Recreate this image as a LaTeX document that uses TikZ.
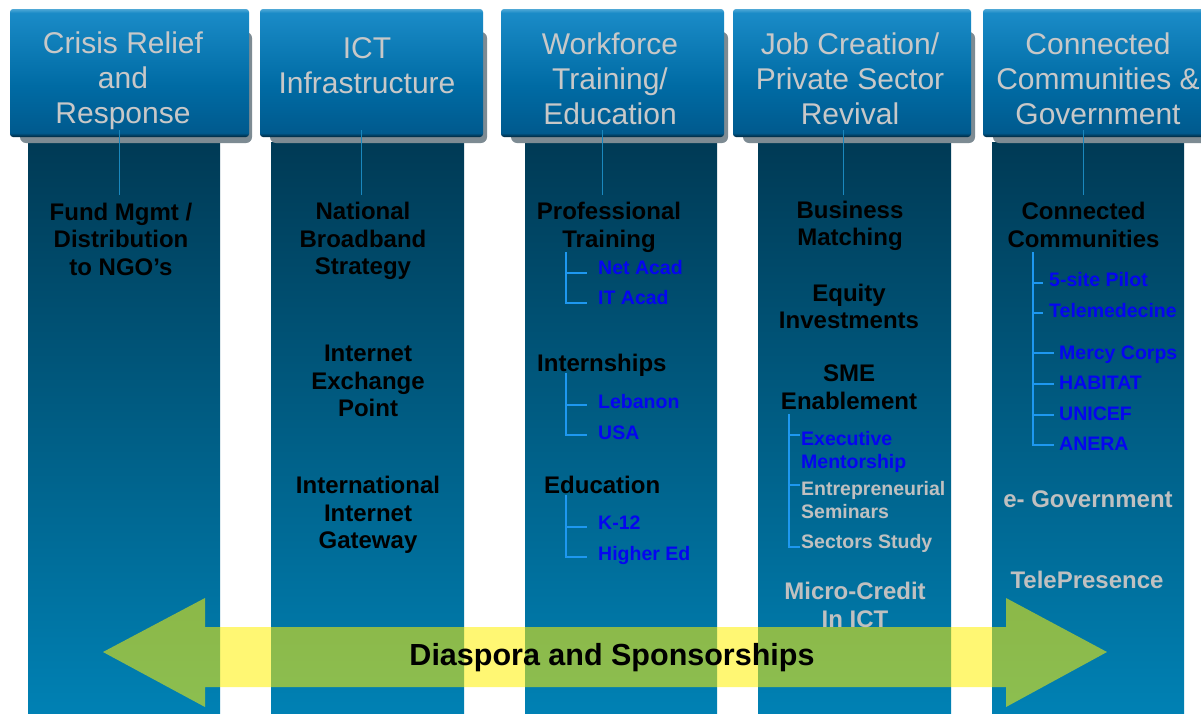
\documentclass[tikz,border=0pt]{standalone}
\usepackage{fontspec}
\setmainfont{Liberation Sans}
\definecolor{coltop}{HTML}{003A55}
\definecolor{colbot}{HTML}{0081B4}
\definecolor{hdedge}{HTML}{00263B}
\definecolor{hdbot}{HTML}{005A8E}
\definecolor{hdmid}{HTML}{006BA4}
\definecolor{hdtop}{HTML}{1A8BC7}
\definecolor{hdhi}{HTML}{4FA8D6}
\definecolor{hdtxt}{HTML}{C8C8C8}
\definecolor{subblue}{HTML}{0505F0}
\definecolor{brk}{HTML}{1E98F0}
\definecolor{greytxt}{HTML}{C0C0C0}
\definecolor{shad}{HTML}{7D8B93}
\definecolor{vline}{HTML}{1A88BE}
\pgfdeclareverticalshading{hdshade}{100bp}{color(0bp)=(hdedge); color(25bp)=(hdedge); color(26.6bp)=(hdbot); color(45bp)=(hdmid); color(73.5bp)=(hdtop); color(75bp)=(hdhi); color(100bp)=(hdhi)}
\begin{document}
\begin{tikzpicture}[x=1pt,y=-1pt,
  hdbox/.style={shade, shading=hdshade, rounded corners=3pt, inner sep=0pt, minimum height=128pt},
  hdshadow/.style={fill=shad, rounded corners=6pt},
  colbar/.style={top color=coltop, bottom color=colbot},
  hdtext/.style={font=\fontsize{30}{35}\selectfont, text=hdtxt, align=center, inner sep=0pt},
  maintext/.style={font=\bfseries\fontsize{24}{27.5}\selectfont, text=black, align=center, inner sep=0pt},
  greytext/.style={maintext, text=greytxt},
  subtext/.style={font=\bfseries\fontsize{19.5}{23}\selectfont, text=subblue, align=left, inner sep=0pt},
  subgrey/.style={subtext, text=greytxt},
  bracket/.style={draw=brk, line width=1.6pt},
  vconn/.style={draw=vline, line width=1pt},
  arrowband/.style={fill=yellow, fill opacity=0.55}
]
\useasboundingbox (0,0) rectangle (1201,713);
\fill[white] (0,0) rectangle (1201,713);

% columns
\shade[colbar] (28,142) rectangle (220,713);
\shade[colbar] (271,142) rectangle (464,713);
\shade[colbar] (525,142) rectangle (717,713);
\shade[colbar] (758,142) rectangle (951,713);
\shade[colbar] (992,142) rectangle (1184,713);

% header shadows
\fill[hdshadow] (20,32) rectangle (252,143);
\fill[hdshadow] (270,32) rectangle (487,143);
\fill[hdshadow] (511,32) rectangle (728,143);
\fill[hdshadow] (743,32) rectangle (975,143);
\fill[hdshadow] (993,32) rectangle (1225,143);

% header boxes
\node[hdbox, minimum width=239pt] (h1) at (129.5,73) {};
\node[hdbox, minimum width=223pt] (h2) at (371.5,73) {};
\node[hdbox, minimum width=223pt] (h3) at (612.5,73) {};
\node[hdbox, minimum width=238pt] (h4) at (852,73) {};
\node[hdbox, minimum width=232pt] (h5) at (1099,73) {};

% header texts
\node[hdtext] (t1) at (123,80.5) {Crisis Relief\\and\\Response};
\node[hdtext] (t2) at (367,66) {ICT\\Infrastructure};
\node[hdtext] (t3) at (610,79) {Workforce\\Training/\\Education};
\node[hdtext] (t4) at (850,78.5) {Job Creation/\\Private Sector\\Revival};
\node[hdtext] (t5) at (1098,78.5) {Connected\\Communities \&\\Government};

% connectors from headers
\coordinate (l1) at (119,195);
\coordinate (l2) at (361,195);
\coordinate (l3) at (602,195);
\coordinate (l4) at (843,195);
\coordinate (l5) at (1083,195);
\draw[vconn] ([yshift=7pt]h1.south -| l1) -- (l1);
\draw[vconn] ([yshift=7pt]h2.south -| l2) -- (l2);
\draw[vconn] ([yshift=7pt]h3.south -| l3) -- (l3);
\draw[vconn] ([yshift=7pt]h4.south -| l4) -- (l4);
\draw[vconn] ([yshift=7pt]h5.south -| l5) -- (l5);

% column 1
\node[maintext] (fund) at (121,239) {Fund Mgmt /\\Distribution\\to NGO’s};

% column 2
\node[maintext] (nbs) at (363,241) {National\\Broadband\\Strategy};
\node[maintext] (ixp) at (368,381) {Internet\\Exchange\\Point};
\node[maintext] (iig) at (368,515) {International\\Internet\\Gateway};

% column 3
\node[maintext] (prof) at (609,227.5) {Professional\\Training};
\node[maintext, anchor=base west] (intern) at (537,371.5) {Internships};
\node[maintext, anchor=base west] (educ) at (544,493.5) {Education};
\node[subtext, anchor=base west] (netacad) at (598,274) {Net Acad};
\node[subtext, anchor=base west] (itacad) at (598,304) {IT Acad};
\node[subtext, anchor=base west] (leb) at (598,408) {Lebanon};
\node[subtext, anchor=base west] (usa) at (598,439) {USA};
\node[subtext, anchor=base west] (k12) at (598,529) {K-12};
\node[subtext, anchor=base west] (higher) at (598,560) {Higher Ed};
\draw[bracket] (566,252) -- (566,303) -- (587,303);
\draw[bracket] (566,273) -- (587,273);
\draw[bracket] (566,373) -- (566,435) -- (587,435);
\draw[bracket] (566,405) -- (587,405);
\draw[bracket] (566,495) -- (566,557) -- (587,557);
\draw[bracket] (566,527) -- (587,527);

% column 4
\node[maintext] (bm) at (850,226) {Business\\Matching};
\node[maintext] (eq) at (849,306.5) {Equity\\Investments};
\node[maintext] (sme) at (849,387) {SME\\Enablement};
\node[subtext, anchor=west] (exec) at (801,452) {Executive\\Mentorship};
\node[subgrey, anchor=west] (entre) at (801,500) {Entrepreneurial\\Seminars};
\node[subgrey, anchor=base west] (sect) at (801,548.5) {Sectors Study};
\draw[bracket] (789,414) -- (789,547) -- (800,547);
\draw[bracket] (789,435) -- (800,435);
\draw[bracket] (789,485) -- (800,485);
\node[greytext] (micro) at (855,605) {Micro-Credit\\In ICT};

% column 5
\node[maintext] (cc) at (1083.5,225) {Connected\\Communities};
\node[subtext, anchor=base west] (pilot) at (1049,286) {5-site Pilot};
\node[subtext, anchor=base west] (tele) at (1049,317) {Telemedecine};
\node[subtext, anchor=base west] (mercy) at (1059,359) {Mercy Corps};
\node[subtext, anchor=base west] (habitat) at (1059,389) {HABITAT};
\node[subtext, anchor=base west] (unicef) at (1059,420) {UNICEF};
\node[subtext, anchor=base west] (anera) at (1059,450) {ANERA};
\draw[bracket] (1033,252) -- (1033,445) -- (1054,445);
\draw[bracket] (1033,283) -- (1043,283);
\draw[bracket] (1033,313) -- (1043,313);
\draw[bracket] (1033,353) -- (1054,353);
\draw[bracket] (1033,384) -- (1054,384);
\draw[bracket] (1033,415) -- (1054,415);
\node[greytext, anchor=base] (egov) at (1088,507.5) {e- Government};
\node[greytext, anchor=base] (telep) at (1087,588.5) {TelePresence};

% double arrow
\path[arrowband] (103,652) -- (205,598) -- (205,627) -- (1006,627) -- (1006,598)
  -- (1107,652) -- (1006,707) -- (1006,687) -- (205,687) -- (205,707) -- cycle;
\node[font=\bfseries\fontsize{30.5}{35}\selectfont, inner sep=0pt] (dias) at (612,658) {Diaspora and Sponsorships};
\end{tikzpicture}
\end{document}
